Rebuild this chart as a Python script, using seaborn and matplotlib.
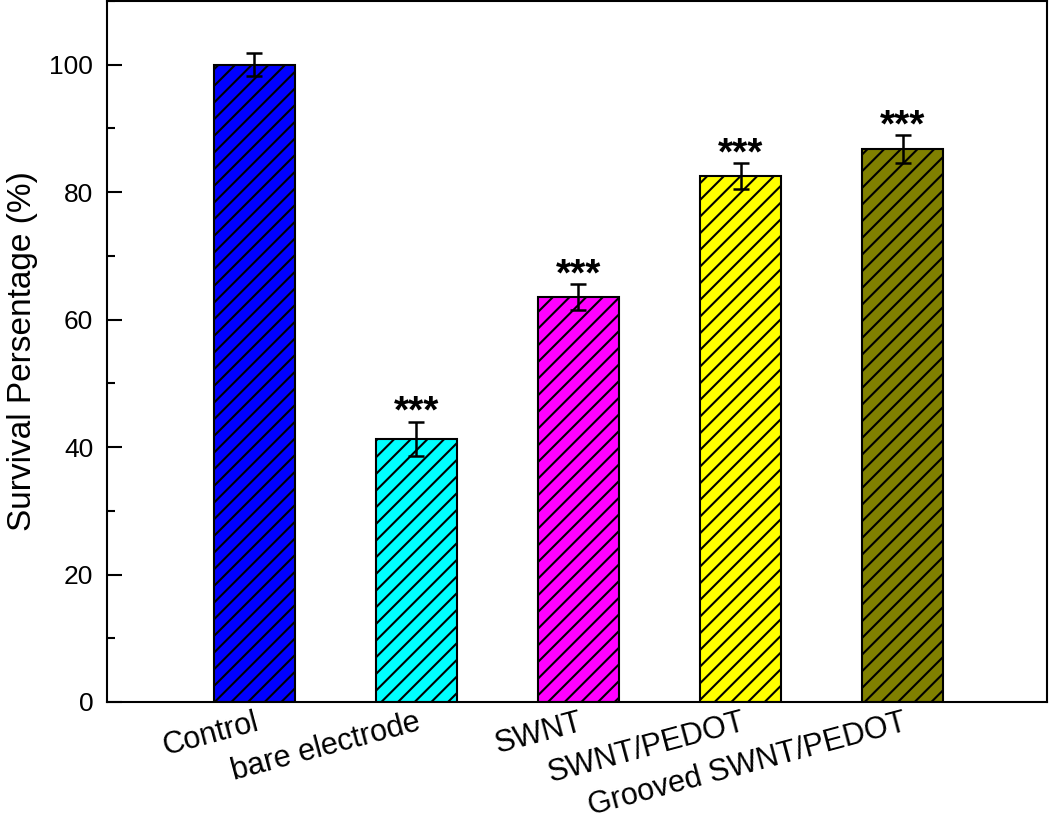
import numpy as np
import pandas as pd
import matplotlib
matplotlib.use("Agg")
import matplotlib.pyplot as plt
import seaborn as sns
from matplotlib.ticker import MultipleLocator

# data
groups = ['Control', 'bare electrode', 'SWNT', 'SWNT/PEDOT', 'Grooved SWNT/PEDOT']
survival = [100.0, 41.3, 63.5, 82.5, 86.7]
errors = [1.8, 2.7, 2.0, 2.1, 2.2]
marks = ['', '***', '***', '***', '***']
colors = ['#0000FF', '#00FFFF', '#FF00FF', '#FFFF00', '#808000']

sns.set_style("ticks")
plt.rcParams['font.family'] = ['Liberation Sans', 'DejaVu Sans']
plt.rcParams['hatch.linewidth'] = 1.5
plt.rcParams['hatch.color'] = 'black'
for key in ['text.color', 'axes.labelcolor', 'xtick.color', 'ytick.color']:
    plt.rcParams[key] = 'black'

df = pd.DataFrame({'group': groups, 'survival': survival})

fig = plt.figure(figsize=(10.5, 8.22), dpi=100)
ax = fig.add_axes([0.102, 0.146, 0.895, 0.853])

sns.barplot(data=df, x='group', y='survival', hue='group', palette=colors,
            saturation=1, legend=False, width=0.5, edgecolor='black',
            linewidth=1.5, errorbar=None, ax=ax)

for p in ax.patches:
    p.set_hatch('//')

ax.errorbar(np.arange(len(groups)), survival, yerr=errors, fmt='none',
            ecolor='black', elinewidth=1.8, capsize=5.5, capthick=1.8, zorder=5)

# significance stars above the error bars
for i, (v, e, m) in enumerate(zip(survival, errors, marks)):
    if m:
        ax.annotate(m, (i, v + e), xytext=(0, -1), textcoords='offset points',
                    ha='center', va='baseline', fontsize=28, fontweight='bold',
                    color='black')

ax.set_xlim(-0.907, 4.889)
ax.set_ylim(0, 110)
ax.yaxis.set_major_locator(MultipleLocator(20))
ax.yaxis.set_minor_locator(MultipleLocator(10))
ax.tick_params(axis='y', which='major', direction='in', length=11, width=1.5,
               labelsize=19, pad=10)
ax.tick_params(axis='y', which='minor', direction='in', length=6, width=1.5)
ax.tick_params(axis='x', length=0, labelsize=22, pad=4)
ax.set_xticks(range(len(groups)))
ax.set_xticklabels(groups, rotation=15, ha='right', rotation_mode='anchor')

ax.set_xlabel('')
ax.set_ylabel('Survival Persentage (%)', fontsize=24, labelpad=8)
for s in ax.spines.values():
    s.set_linewidth(1.5)
    s.set_color('black')

fig.savefig('out.png', dpi=100)
